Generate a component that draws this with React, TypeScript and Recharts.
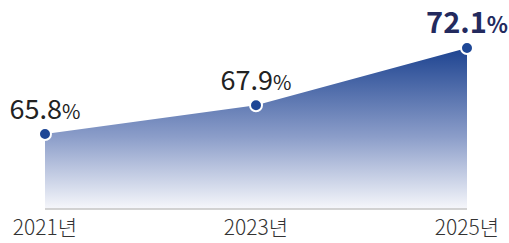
import { AreaChart, Area, XAxis, YAxis, LabelList } from "recharts";

const years = ["2021년", "2023년", "2025년"];
const rates = [65.8, 67.9, 72.1];

const data = years.map((year, i) => ({ year, rate: rates[i] }));

const FONT = "'Noto Sans CJK KR', 'Noto Sans', sans-serif";

function ValueLabel(props: any) {
  const { x, y, value, index } = props;
  const last = index === rates.length - 1;
  return (
    <text
      x={x}
      y={y - 15}
      textAnchor="middle"
      fontFamily={FONT}
      fill={last ? "#232a5e" : "#222222"}
      fontWeight={last ? 700 : 400}
    >
      <tspan fontSize={last ? 29 : 27}>{value.toFixed(1)}</tspan>
      <tspan fontSize={last ? 22 : 20}>%</tspan>
    </text>
  );
}

export default function App() {
  return (
    <div style={{ position: "absolute", left: 0, top: 0, width: 509, height: 243 }}>
      <AreaChart
        width={509}
        height={243}
        data={data}
        margin={{ top: 20, right: 42, bottom: 0, left: 45 }}
      >
        <defs>
          <linearGradient id="areaFill" x1="0" y1="0" x2="0" y2="1">
            <stop offset="0%" stopColor="#1d4390" />
            <stop offset="55%" stopColor="#8b9dc9" />
            <stop offset="100%" stopColor="#f6f7fb" />
          </linearGradient>
        </defs>
        <XAxis
          dataKey="year"
          height={34}
          tickLine={false}
          axisLine={{ stroke: "#c4c4c4", strokeWidth: 1.5 }}
          tick={{ fill: "#333333", fontSize: 21, fontWeight: 300, fontFamily: FONT }}
          tickMargin={5}
          interval={0}
        />
        <YAxis hide domain={[60.3, 74.15]} />
        <Area
          type="linear"
          dataKey="rate"
          stroke="none"
          fill="url(#areaFill)"
          fillOpacity={1}
          isAnimationActive={false}
          dot={{ r: 6, fill: "#1e4796", stroke: "#ffffff", strokeWidth: 2, fillOpacity: 1 }}
          activeDot={false}
        >
          <LabelList dataKey="rate" content={<ValueLabel />} />
        </Area>
      </AreaChart>
    </div>
  );
}
